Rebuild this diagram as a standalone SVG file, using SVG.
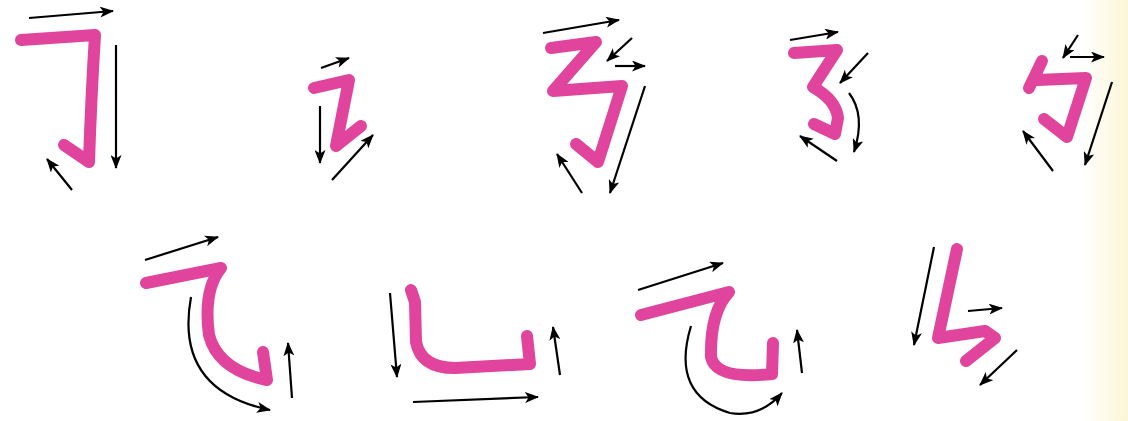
<svg xmlns="http://www.w3.org/2000/svg" width="1128" height="421" viewBox="0 0 1128 421">
<defs>
<linearGradient id="edge" x1="0" y1="0" x2="1" y2="0">
<stop offset="0" stop-color="#ffffff"/>
<stop offset="1" stop-color="#fcf6d6"/>
</linearGradient>
<marker id="ah" viewBox="0 0 14 11" refX="13" refY="5.5" markerWidth="14" markerHeight="11" markerUnits="userSpaceOnUse" orient="auto">
<path d="M0,0 L14,5.5 L0,11 L3.5,5.5 Z" fill="#000"/>
</marker>
</defs>
<style>
.s{fill:none;stroke:#e0449c;stroke-width:12;stroke-linecap:round;stroke-linejoin:round}
.a{fill:none;stroke:#000;stroke-width:2.2;marker-end:url(#ah)}
</style>
<rect width="1128" height="421" fill="#fff"/>
<rect x="1082" y="0" width="46" height="421" fill="url(#edge)"/>
<g id="char1"><path class="s" d="M21,40 L95,35 Q91,100 89,162 L64,145"/></g>
<g id="char2"><path class="s" d="M314,88 L349,80 L336,146 L361,126"/></g>
<g id="char3"><path class="s" d="M551,48 L596,42 L553,91 L622,86 L598,162 L576,144"/></g>
<g id="char4"><path class="s" d="M794,53 L837,50 L813,87 Q836,100 838,118 L835,134 L814,124"/></g>
<g id="char5"><path class="s" d="M1042,61 L1029,88 M1037,80 L1086,78 L1067,137 L1044,119"/></g>
<g id="char6"><path class="s" d="M146,283 L221,268 Q203,290 209,335 Q218,370 267,380 L263,352"/></g>
<g id="char7"><path class="s" d="M411,290 L415,302 L416,342 Q421,368 455,368 L530,364 L527,336"/></g>
<g id="char8"><path class="s" d="M641,315 L729,292 Q710,312 711,357 Q716,380 772,374 L773,343"/></g>
<g id="char9"><path class="s" d="M957,249 L938,338 L985,331 L995,338 L966,361"/></g>
<g id="connectors">
<path class="a" d="M29,18 L113,11"/>
<path class="a" d="M116,45 L116,168"/>
<path class="a" d="M72,190 L47,159"/>
<path class="a" d="M321,68 L349,58"/>
<path class="a" d="M320,106 L320,163"/>
<path class="a" d="M332,180 L373,135"/>
<path class="a" d="M543,33 L619,20"/>
<path class="a" d="M632,38 L607,61"/>
<path class="a" d="M615,66 L645,66"/>
<path class="a" d="M645,86 L610,193"/>
<path class="a" d="M582,193 L557,154"/>
<path class="a" d="M790,40 L838,32"/>
<path class="a" d="M868,53 L840,83"/>
<path class="a" d="M849,93 Q866,115 854,152"/>
<path class="a" d="M837,161 L800,136"/>
<path class="a" d="M1078,35 L1063,58"/>
<path class="a" d="M1070,57 L1104,57"/>
<path class="a" d="M1112,82 L1085,165"/>
<path class="a" d="M1053,171 L1023,131"/>
<path class="a" d="M145,260 L218,237"/>
<path class="a" d="M191,297 Q174,390 270,410"/>
<path class="a" d="M292,398 L288,343"/>
<path class="a" d="M390,293 L397,377"/>
<path class="a" d="M413,402 L538,397"/>
<path class="a" d="M560,375 L553,327"/>
<path class="a" d="M638,290 L723,263"/>
<path class="a" d="M691,326 Q670,395 730,413 Q760,418 782,393"/>
<path class="a" d="M802,373 L797,330"/>
<path class="a" d="M934,247 L914,345"/>
<path class="a" d="M968,311 L1002,308"/>
<path class="a" d="M1017,350 L980,385"/>
</g>
</svg>
